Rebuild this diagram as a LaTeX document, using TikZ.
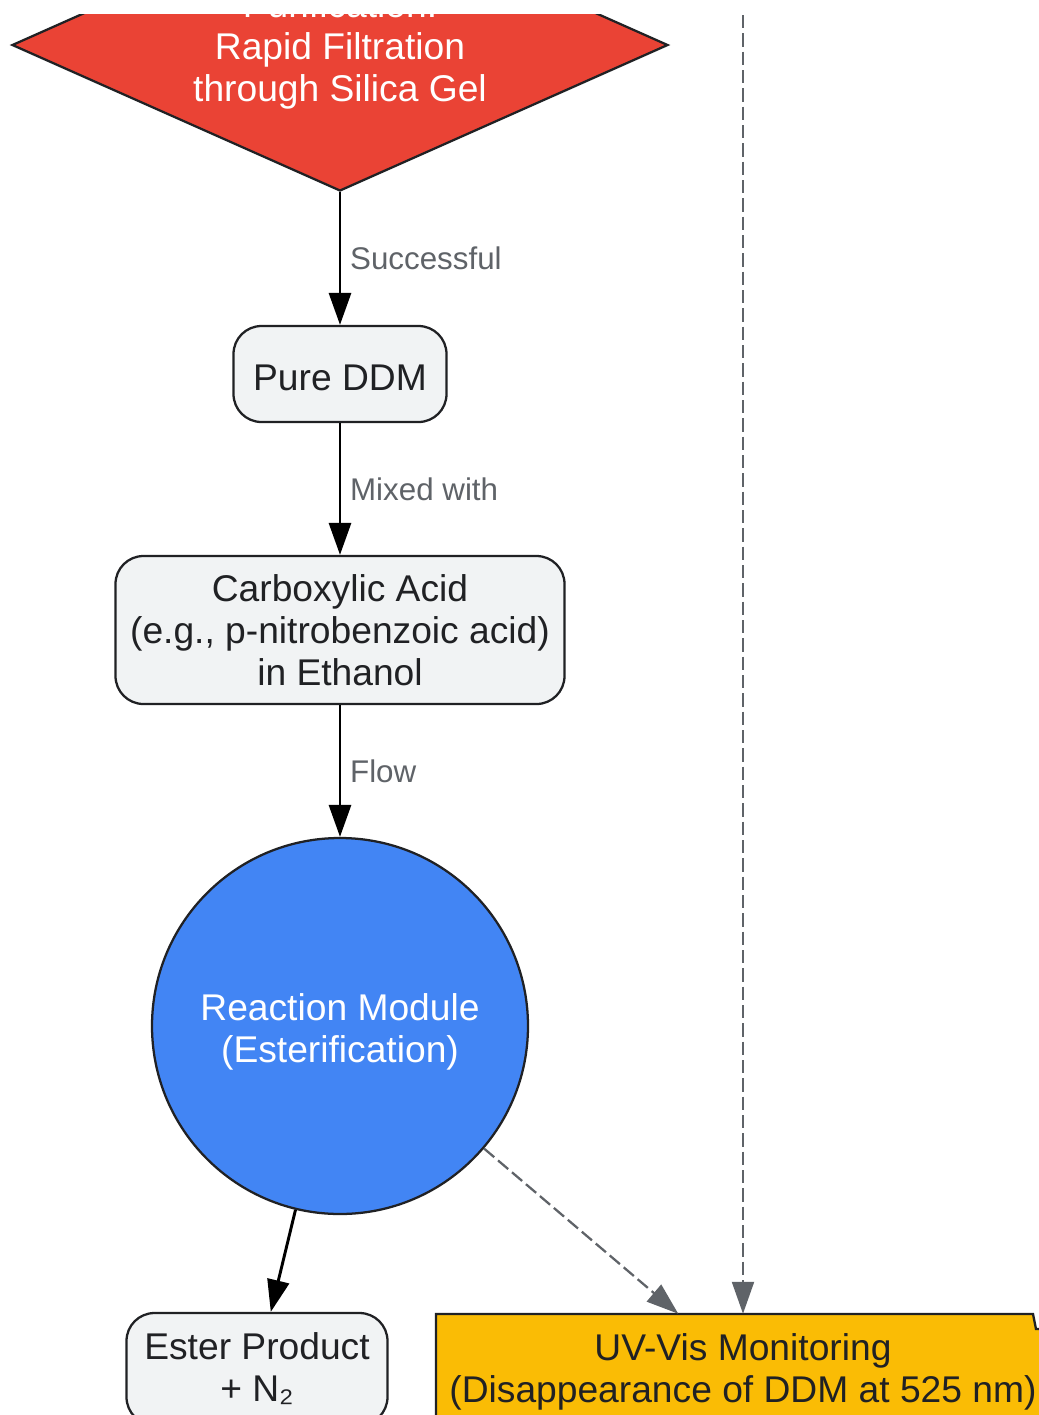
\documentclass[tikz,border=0pt]{standalone}
\usepackage{fontspec}
\setmainfont{Liberation Sans}
\usetikzlibrary{shapes.geometric,arrows.meta}

\definecolor{stepred}{HTML}{EA4335}
\definecolor{moduleblue}{HTML}{4285F4}
\definecolor{monitoryellow}{HTML}{FABC05}
\definecolor{boxgray}{HTML}{F1F3F4}
\definecolor{edgegray}{HTML}{5F6368}
\definecolor{inkdark}{HTML}{202124}

\newcommand{\nodefont}{\fontsize{27.9}{31.5}\selectfont}
\newcommand{\labelfont}{\fontsize{23.5}{28}\selectfont}
\newcommand{\liftline}[1]{\rule{0pt}{#1}}

\tikzset{
  procbox/.style={draw=inkdark, line width=1.7pt, fill=boxgray, rounded corners=21pt,
    align=center, text=inkdark, font=\nodefont, inner sep=0pt},
  decision/.style={diamond, draw=inkdark, line width=1.7pt, fill=stepred, text=white,
    align=center, font=\nodefont, inner sep=0pt, aspect=2.247,
    minimum width=492pt, minimum height=219pt},
  module/.style={circle, draw=inkdark, line width=1.7pt, fill=moduleblue, text=white,
    align=center, font=\nodefont, inner sep=0pt, minimum size=282pt},
  monitortext/.style={align=center, text=inkdark, font=\nodefont, inner sep=0pt,
    minimum width=460.5pt, minimum height=82.5pt},
  flow/.style={line width=2.2pt, -{Triangle[length=24pt,width=16.5pt]}},
  watch/.style={draw=edgegray, line width=1.7pt, dash pattern=on 10pt off 3.75pt,
    -{Triangle[length=24pt,width=16.5pt,fill=edgegray]}},
  elabel/.style={midway, right, font=\labelfont, text=edgegray, inner sep=0pt, xshift=6.5pt}
}

\begin{document}
\begin{tikzpicture}[x=0.75pt, y=-0.75pt]
  \useasboundingbox[fill=white] (0,0) rectangle (1039,1415);
  \clip (0,14) rectangle (1039,1415);

  % nodes
  \node[decision] (purify) at (340,45) {\liftline{28pt}Purification:\\Rapid Filtration\\through Silica Gel};
  \node[procbox, minimum width=159.75pt, minimum height=72pt] (pureddm) at (340,374) {\liftline{24.5pt}Pure DDM};
  \node[procbox, minimum width=336.75pt, minimum height=111pt] (acid) at (340,630)
    {Carboxylic Acid\\(e.g., p-nitrobenzoic acid)\\in Ethanol};
  \node[module] (reactor) at (340,1026) {\liftline{29.5pt}Reaction Module\\(Esterification)};
  \node[procbox, minimum width=195.75pt, minimum height=84pt] (ester) at (257,1369)
    {Ester Product\\+ N₂};

  % monitoring box with its notched corner
  \filldraw[fill=monitoryellow, draw=inkdark, line width=1.7pt]
    (436,1440) -- (436,1314) -- (1033,1314) -- (1036,1329) -- (1070,1329) -- (1070,1440);
  \node[monitortext] (uv) at (743,1369) {\liftline{25pt}UV-Vis Monitoring\\(Disappearance of DDM at 525 nm)};
  \coordinate (monitorsrc) at (743,-150);

  % connectors
  \draw[flow] (purify.south) -- (pureddm.north) node[elabel] {Successful};
  \draw[flow] (pureddm.south) -- (acid.north) node[elabel] {Mixed with};
  \draw[flow] (acid.south) -- (reactor.north) node[elabel] {Flow};
  \draw[flow] (reactor) -- (ester);
  \draw[watch] (reactor) -- (uv);
  \draw[watch] (monitorsrc) -- (uv.north);
\end{tikzpicture}
\end{document}
